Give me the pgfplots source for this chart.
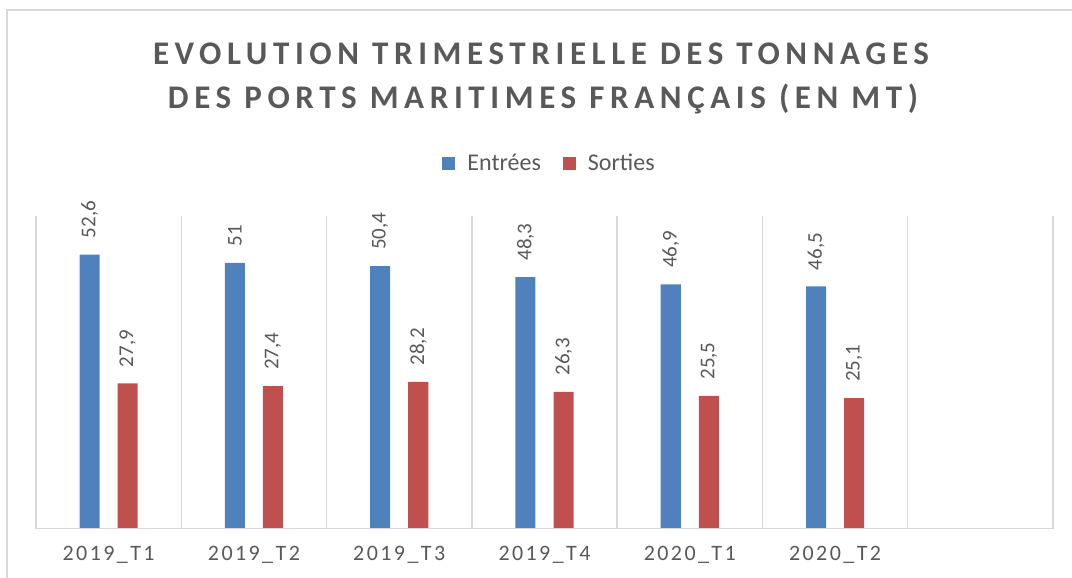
\documentclass[border=0pt]{standalone}
\usepackage{pgfplots}
\pgfplotsset{compat=1.18}
\usepackage{fontspec}
\setmainfont{Carlito}
\newfontfamily\titlefont[LetterSpace=17]{Carlito}
\newfontfamily\tickfont[LetterSpace=11]{Carlito}
\definecolor{cblue}{HTML}{4F81BD}
\definecolor{cred}{HTML}{C0504D}
\definecolor{tgray}{HTML}{595959}
\definecolor{ggray}{HTML}{D9D9D9}
\begin{document}
\begin{tikzpicture}[x=0.5pt,y=0.5pt]
\useasboundingbox (-36,-49) rectangle (1036,529);
\draw[ggray, line width=1pt] (-29,-49) -- (-29,519) -- (1036,519);
\node[anchor=base, text=tgray, font=\titlefont\bfseries\fontsize{16.5}{20}\selectfont] at (505,464) {EVOLUTION TRIMESTRIELLE DES TONNAGES};
\node[anchor=base, text=tgray, font=\titlefont\bfseries\fontsize{16.5}{20}\selectfont] at (507,420) {DES PORTS MARITIMES FRANÇAIS (EN MT)};
\begin{axis}[
  anchor=south west,
  scale only axis, width=508.5pt, height=156.5pt,
  xmin=-0.5, xmax=6.5, ymin=0, ymax=60,
  ytick=\empty,
  xtick={0,1,2,3,4,5},
  xticklabels={2019\_T1,2019\_T2,2019\_T3,2019\_T4,2020\_T1,2020\_T2},
  xticklabel style={font=\tickfont\fontsize{11}{13}\selectfont, text=tgray, yshift=-5pt},
  major tick length=0pt, minor tick length=0pt,
  minor xtick={-0.5,0.5,1.5,2.5,3.5,4.5,5.5,6.5},
  xminorgrids, minor grid style={ggray, line width=0.75pt},
  axis line style={draw=none},
  ybar, bar width=0.138,
  /pgf/number format/assume math mode=true,
  /pgf/number format/use comma,
  nodes near coords,
  every node near coord/.append style={rotate=90, anchor=west, inner xsep=8pt, font=\fontsize{10.5}{12}\selectfont, text=tgray},
  legend columns=2,
  legend style={at={(0.504,1.168)}, anchor=center, draw=none, fill=none,
    font=\fontsize{12}{14}\selectfont, text=tgray, nodes={inner sep=0pt},
    /tikz/every odd column/.append style={column sep=6pt},
    /tikz/every even column/.append style={column sep=11pt}},
  legend image code/.code={\fill[#1] (0pt,-3.25pt) rectangle (6.5pt,3.25pt);},
]
\addplot[fill=cblue, draw=none, bar shift=-0.131] coordinates {(0,52.6) (1,51) (2,50.4) (3,48.3) (4,46.9) (5,46.5)};
\addlegendentry{Entrées}
\addplot[fill=cred, draw=none, bar shift=0.131] coordinates {(0,27.9) (1,27.4) (2,28.2) (3,26.3) (4,25.5) (5,25.1)};
\addlegendentry{Sorties}
\draw[ggray, line width=0.75pt] (rel axis cs:0,0) -- (rel axis cs:1,0);
\end{axis}
\end{tikzpicture}
\end{document}
